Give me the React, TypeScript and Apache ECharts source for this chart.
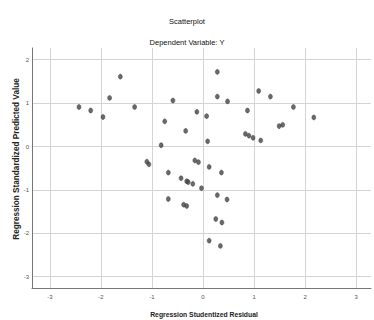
import React, { useEffect, useRef } from "react";
import * as echarts from "echarts";

const residuals: number[] = [
  -2.43, -2.2, -1.96, -1.83, -1.62, -1.34, -1.1, -1.06, -0.82, -0.75, -0.68, -0.68,
  -0.59, -0.43, -0.38, -0.32, -0.34, -0.32, -0.29, -0.2, -0.16, -0.12, -0.09, -0.03,
  0.07, 0.09, 0.12, 0.12, 0.25, 0.28, 0.28, 0.28, 0.34, 0.36, 0.37, 0.47,
  0.48, 0.83, 0.87, 0.9, 0.98, 1.09, 1.13, 1.32, 1.49, 1.56, 1.77, 2.17,
];
const predicted: number[] = [
  0.91, 0.83, 0.68, 1.12, 1.61, 0.91, -0.35, -0.41, 0.03, 0.58, -0.6, -1.21,
  1.06, -0.73, -1.34, -1.37, 0.36, -0.8, -0.82, -0.86, -0.32, 0.8, -0.36, -0.96,
  0.7, 0.12, -0.47, -2.17, -1.67, 1.72, 1.15, -1.12, -2.29, -0.6, -1.75, -1.22,
  1.04, 0.29, 0.83, 0.25, 0.2, 1.28, 0.14, 1.15, 0.47, 0.5, 0.91, 0.67,
];
const xRange: [number, number] = [-3.35, 3.29];
const yRange: [number, number] = [-3.26, 2.27];

const chartTitle = "Scatterplot";
const chartSubtitle = "Dependent Variable: Y";
const xTitle = "Regression Studentized Residual";
const yTitle = "Regression Standardized Predicted Value";

const intLabel = (v: number) => (Math.abs(v - Math.round(v)) < 1e-6 ? String(Math.round(v)) : "");

export default function App() {
  const ref = useRef<HTMLDivElement>(null);
  useEffect(() => {
    if (!ref.current) return;
    const chart = echarts.init(ref.current, undefined, { renderer: "svg" });
    const font = "'Liberation Sans', Arial, sans-serif";
    const data = residuals.map((x, i) => [x, predicted[i]]);
    chart.setOption({
      animation: false,
      backgroundColor: "#ffffff",
      grid: { left: 32, top: 48, right: 0, bottom: 32, containLabel: false },
      xAxis: {
        type: "value",
        min: xRange[0],
        max: xRange[1],
        minInterval: 1,
        maxInterval: 1,
        axisLine: { show: true, onZero: false, lineStyle: { color: "#777", width: 1 } },
        axisTick: { show: false },
        axisLabel: { formatter: intLabel, fontSize: 6, color: "#555", margin: 6, fontFamily: font },
        splitLine: { show: true, showMinLine: false, showMaxLine: false, lineStyle: { color: "#d4d4d4", width: 1 } },
      },
      yAxis: {
        type: "value",
        min: yRange[0],
        max: yRange[1],
        minInterval: 1,
        maxInterval: 1,
        axisLine: { show: true, onZero: false, lineStyle: { color: "#777", width: 1 } },
        axisTick: { show: false },
        axisLabel: { formatter: intLabel, fontSize: 6, color: "#555", margin: 3, fontFamily: font },
        splitLine: { show: true, showMinLine: false, showMaxLine: false, lineStyle: { color: "#d4d4d4", width: 1 } },
      },
      series: [
        {
          type: "scatter",
          data,
          symbol: "circle",
          symbolSize: [4, 5],
          itemStyle: { color: "#444444", borderColor: "#333333", borderWidth: 0.5 },
        },
      ],
      graphic: [
        {
          type: "text",
          x: 187,
          y: 21,
          style: { text: chartTitle, font: `7.5px ${font}`, fill: "#111", align: "center", verticalAlign: "middle" },
        },
        {
          type: "text",
          x: 187,
          y: 42,
          style: { text: chartSubtitle, font: `7.5px ${font}`, fill: "#111", align: "center", verticalAlign: "middle" },
        },
        {
          type: "text",
          x: 204,
          y: 314,
          style: { text: xTitle, font: `bold 6.8px ${font}`, fill: "#222", align: "center", verticalAlign: "middle" },
        },
        {
          type: "text",
          x: 16,
          y: 159,
          rotation: Math.PI / 2,
          style: { text: yTitle, font: `bold 8.2px ${font}`, fill: "#222", align: "center", verticalAlign: "middle" },
        },
      ],
    });
    return () => chart.dispose();
  }, []);
  return <div ref={ref} style={{ position: "fixed", left: 0, top: 0, width: 374, height: 320 }} />;
}
